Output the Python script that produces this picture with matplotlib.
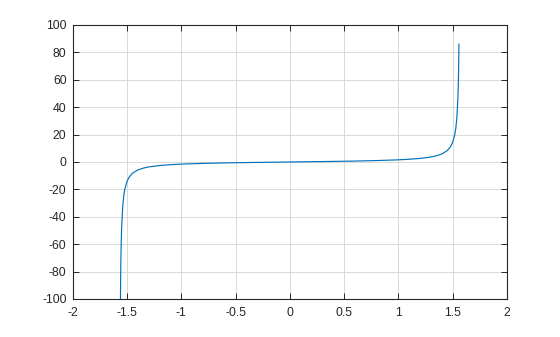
import matplotlib

matplotlib.use("Agg")
import matplotlib.pyplot as plt

# values
x_values = [-1.5612, -1.5608, -1.558, -1.555, -1.55, -1.54, -1.53, -1.52, -1.5, -1.48,
            -1.45, -1.4, -1.35, -1.3, -1.2, -1.1, -1.0, -0.8, -0.6, -0.4, -0.2, 0.0,
            0.2, 0.4, 0.6, 0.8, 1.0, 1.1, 1.2, 1.3, 1.35, 1.4, 1.45, 1.48, 1.5, 1.52,
            1.53, 1.54, 1.55, 1.555, 1.559]
y_values = [-105.0, -100.0, -77.0, -63.0, -48.0, -32.5, -24.5, -19.7, -14.1, -11.0,
            -8.2, -5.8, -4.5, -3.6, -2.6, -2.0, -1.56, -1.03, -0.68, -0.42, -0.2, 0.0,
            0.2, 0.42, 0.68, 1.03, 1.56, 2.0, 2.6, 3.6, 4.5, 5.8, 8.2, 11.0, 14.1, 19.7,
            24.5, 32.5, 48.0, 63.0, 86.0]

x_ticks = [-2, -1.5, -1, -0.5, 0, 0.5, 1, 1.5, 2]
x_tick_labels = ["-2", "-1.5", "-1", "-0.5", "0", "0.5", "1", "1.5", "2"]
y_ticks = [-100, -80, -60, -40, -20, 0, 20, 40, 60, 80, 100]

plt.rcParams["font.family"] = ["Liberation Sans", "DejaVu Sans"]
plt.rcParams["axes.unicode_minus"] = False

fig = plt.figure(figsize=(5.6, 3.37), dpi=100)
ax = fig.add_axes([0.130, 0.1128, 0.775, 0.8131])
ax.plot(x_values, y_values, color="#0072BD", linewidth=0.85)
ax.set_xlim(-2, 2)
ax.set_ylim(-100, 100)
ax.set_xticks(x_ticks)
ax.set_xticklabels(x_tick_labels)
ax.set_yticks(y_ticks)
ax.grid(True, color="#d9d9d9", linewidth=0.7)
ax.set_axisbelow(True)
ax.tick_params(direction="in", length=4, width=0.7, top=True, right=True,
               labelsize=8.8, colors="#262626")
ax.tick_params(axis="x", pad=6)
ax.tick_params(axis="y", pad=4.5)
for spine in ax.spines.values():
    spine.set_linewidth(0.8)
    spine.set_color("#262626")

fig.savefig("out.png", dpi=100)
